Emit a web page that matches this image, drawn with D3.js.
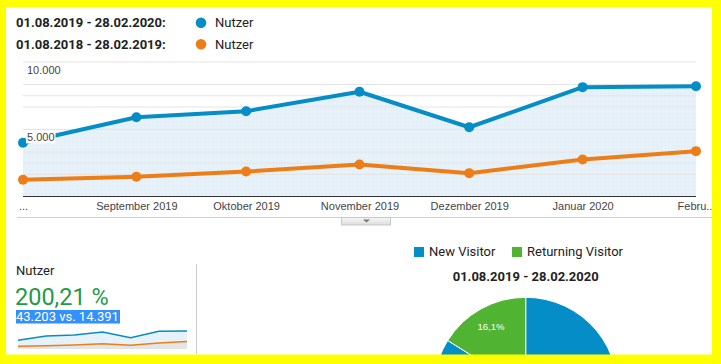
<!DOCTYPE html>
<html>
<head>
<meta charset="utf-8">
<script src="https://cdnjs.cloudflare.com/ajax/libs/d3/7.8.5/d3.min.js"></script>
<style>
    html, body { margin: 0; padding: 0; background: #fff; }
    svg { display: block; }
</style>
</head>
<body>
<div id="chart"></div>
<script>
// Daten
const months = ["2019-08-01", "2019-09-01", "2019-10-01", "2019-11-01", "2019-12-01", "2020-01-01", "2020-02-01"];
const tickLabels = ["...", "September 2019", "Oktober 2019", "November 2019", "Dezember 2019", "Januar 2020", "Febru..."];
const nutzerAktuell = [3980, 5870, 6320, 7760, 5130, 8100, 8170];
const nutzerVorjahr = [1240, 1460, 1850, 2370, 1730, 2740, 3360];
const gridValues = [1667, 2500, 3333, 5000, 6667, 7500, 8333, 10000];
const yLabelValues = [5000, 10000];
const rangeAktuell = "01.08.2019 - 28.02.2020";
const rangeVorjahr = "01.08.2018 - 28.02.2019";
const summeAktuell = 43203, summeVorjahr = 14391;
const aenderung = "200,21 %";
const pieCategories = ["New Visitor", "Returning Visitor"];
const pieValues = [83.9, 16.1];

const blue = "#058dc7", orange = "#ed7e17", green = "#50b432";
const W = 721, H = 364;

const de = d3.formatLocale({ decimal: ",", thousands: ".", grouping: [3], currency: ["", " €"] });
const fmt = de.format(",d");
const parse = d3.timeParse("%Y-%m-%d");
const dates = months.map(parse);

const svg = d3.select("#chart").append("svg")
    .attr("width", W)
    .attr("height", H);

// Punktmuster für die Fläche
const defs = svg.append("defs");
const pat = defs.append("pattern")
    .attr("id", "dots")
    .attr("width", 4).attr("height", 4)
    .attr("patternUnits", "userSpaceOnUse");
pat.append("rect").attr("width", 4).attr("height", 4).attr("fill", "#e6f1f9");
pat.append("rect").attr("x", 1).attr("y", 1).attr("width", 1).attr("height", 1).attr("fill", "#d9e9f4");

const grad = defs.append("linearGradient").attr("id", "btn").attr("x1", 0).attr("y1", 0).attr("x2", 0).attr("y2", 1);
grad.append("stop").attr("offset", "0%").attr("stop-color", "#f8f8f8");
grad.append("stop").attr("offset", "100%").attr("stop-color", "#dcdcdc");

// Legende oben
const legend = svg.append("g").style("font-family", "Roboto, sans-serif").style("font-size", "13px");
[[rangeAktuell, blue, 22.7], [rangeVorjahr, orange, 44.3]].forEach(([label, color, cy]) => {
    legend.append("text")
        .attr("x", 16).attr("y", cy).attr("dy", "0.35em")
        .style("font-weight", "bold").attr("fill", "#222")
        .text(label + ":");
    legend.append("circle").attr("cx", 201).attr("cy", cy).attr("r", 5.3).attr("fill", color);
    legend.append("text")
        .attr("x", 215).attr("y", cy).attr("dy", "0.35em")
        .attr("fill", "#222")
        .text("Nutzer");
});

// Skalen
const x = d3.scaleTime()
    .domain([dates[0], dates[dates.length - 1]])
    .range([23, 696]);

const y = d3.scaleLinear()
    .domain([0, 10000])
    .range([196.5, 61.5]);

const chart = svg.append("g");

// Fläche unter der aktuellen Linie
const area = d3.area()
    .x((d, i) => x(dates[i]))
    .y0(y(0))
    .y1(d => y(d));

chart.append("path")
    .datum(nutzerAktuell)
    .attr("d", area)
    .attr("fill", "url(#dots)");

// Gitterlinien
chart.append("g")
    .call(d3.axisLeft(y).tickValues(gridValues).tickSize(-(696 - 23)).tickFormat(""))
    .attr("transform", "translate(23,0)")
    .call(g => g.select(".domain").remove())
    .call(g => g.selectAll("line").attr("stroke", "#e4e4e4"));

// X-Achse
chart.append("g")
    .attr("transform", `translate(0,${y(0)})`)
    .call(d3.axisBottom(x).tickValues(dates).tickSize(0).tickPadding(6)
        .tickFormat((d, i) => tickLabels[i]))
    .call(g => g.select(".domain").attr("stroke", "#333").attr("d", `M23,0H696`))
    .call(g => g.selectAll("text")
        .style("font-family", "Arial, 'Liberation Sans', sans-serif")
        .style("font-size", "11px")
        .attr("fill", "#444"));

// Linien
const line = d3.line()
    .x((d, i) => x(dates[i]))
    .y(d => y(d));

[[nutzerVorjahr, orange], [nutzerAktuell, blue]].forEach(([values, color]) => {
    chart.append("path")
        .datum(values)
        .attr("d", line)
        .attr("fill", "none")
        .attr("stroke", color)
        .attr("stroke-width", 4)
        .attr("stroke-linejoin", "round");
    chart.selectAll(null)
        .data(values)
        .enter()
        .append("circle")
        .attr("cx", (d, i) => x(dates[i]))
        .attr("cy", d => y(d))
        .attr("r", 5)
        .attr("fill", color);
});

// Y-Beschriftung mit weißem Hintergrund
const yLab = chart.selectAll(".ylab")
    .data(yLabelValues)
    .enter()
    .append("g")
    .attr("class", "ylab")
    .attr("transform", d => `translate(27,${y(d) + 8.5})`);
yLab.append("text")
    .attr("dy", "0.35em")
    .style("font-family", "Arial, 'Liberation Sans', sans-serif")
    .style("font-size", "11px")
    .attr("fill", "#444")
    .text(d => fmt(d))
    .each(function () {
        const b = this.getBBox();
        d3.select(this.parentNode).insert("rect", "text")
            .attr("x", b.x - 1).attr("y", b.y)
            .attr("width", b.width + 2).attr("height", b.height)
            .attr("fill", "#fff");
    });

// Trennlinie und Griff
svg.append("line")
    .attr("x1", 17).attr("x2", 712).attr("y1", 217.5).attr("y2", 217.5)
    .attr("stroke", "#d0d0d0");
svg.append("rect")
    .attr("x", 341.5).attr("y", 217.5).attr("width", 49).attr("height", 7.5)
    .attr("fill", "url(#btn)").attr("stroke", "#c8c8c8");
svg.append("path")
    .attr("d", "M363,219.5h7l-3.5,3z")
    .attr("fill", "#777");

// Kennzahl links unten
const kpi = svg.append("g").style("font-family", "Roboto, sans-serif");
kpi.append("text")
    .attr("x", 16).attr("y", 270.7).attr("dy", "0.35em")
    .style("font-size", "13px").attr("fill", "#222")
    .text("Nutzer");
kpi.append("text")
    .attr("x", 15).attr("y", 304.5)
    .style("font-size", "23.5px").attr("fill", "#1f9a45")
    .text(aenderung);
kpi.append("rect")
    .attr("x", 16).attr("y", 310).attr("width", 104).attr("height", 13.5)
    .attr("fill", "#3390ff");
kpi.append("text")
    .attr("x", 16).attr("y", 321.3)
    .style("font-size", "13px").attr("fill", "#fff")
    .text(`${fmt(summeAktuell)} vs. ${fmt(summeVorjahr)}`);

// Sparkline
const sx = d3.scaleLinear().domain([0, nutzerAktuell.length - 1]).range([18, 187]);
const sy = d3.scaleLinear().domain([0, d3.max(nutzerAktuell)]).range([349, 331]);
const sArea = d3.area().x((d, i) => sx(i)).y0(sy(0)).y1(d => sy(d));
const sLine = d3.line().x((d, i) => sx(i)).y(d => sy(d));
svg.append("path").datum(nutzerAktuell).attr("d", sArea).attr("fill", "#e6f1f9");
svg.append("path").datum(nutzerVorjahr).attr("d", sArea).attr("fill", "#e3e6e6");
svg.append("path").datum(nutzerAktuell).attr("d", sLine).attr("fill", "none").attr("stroke", blue).attr("stroke-width", 1.5);
svg.append("path").datum(nutzerVorjahr).attr("d", sLine).attr("fill", "none").attr("stroke", orange).attr("stroke-width", 1.5);

svg.append("line")
    .attr("x1", 196.5).attr("x2", 196.5).attr("y1", 264).attr("y2", 354)
    .attr("stroke", "#ccc");

// Kreisdiagramm
const pieColor = d3.scaleOrdinal().domain(pieCategories).range([blue, green]);
const pieLeg = svg.append("g").style("font-family", "Roboto, sans-serif").style("font-size", "13px");
const legX = [414, 512];
pieCategories.forEach((c, i) => {
    pieLeg.append("rect")
        .attr("x", legX[i]).attr("y", 247).attr("width", 10).attr("height", 10)
        .attr("fill", pieColor(c));
    pieLeg.append("text")
        .attr("x", legX[i] + 15).attr("y", 251.7).attr("dy", "0.35em")
        .attr("fill", "#222")
        .text(c);
});
pieLeg.append("text")
    .attr("x", 525.7).attr("y", 276).attr("dy", "0.35em")
    .attr("text-anchor", "middle")
    .style("font-weight", "bold").attr("fill", "#222")
    .text(rangeAktuell);

const r = 92;
const cx = 525.7, cy = 389.3;
const pie = d3.pie().sort(null)(pieValues);
const arc = d3.arc().innerRadius(0).outerRadius(r);
const labelArc = d3.arc().innerRadius(r * 0.78).outerRadius(r * 0.78);
const pg = svg.append("g").attr("transform", `translate(${cx},${cy})`);
pg.selectAll("path")
    .data(pie)
    .enter()
    .append("path")
    .attr("d", arc)
    .attr("fill", (d, i) => pieColor(pieCategories[i]))
    .attr("stroke", "#fff")
    .attr("stroke-width", 1);
// nur Beschriftungen, die im sichtbaren Bereich liegen
pg.selectAll("text")
    .data(pie.filter(d => cy + labelArc.centroid(d)[1] < 345))
    .enter()
    .append("text")
    .attr("transform", d => `translate(${labelArc.centroid(d)})`)
    .attr("dy", "0.35em")
    .attr("text-anchor", "middle")
    .style("font-family", "Arial, 'Liberation Sans', sans-serif")
    .style("font-size", "9.5px")
    .attr("fill", "#fff")
    .text(d => d3.format(".1f")(d.data).replace(".", ",") + "%");

// Gelber Rahmen
svg.append("path")
    .attr("d", `M0,0H${W}V${H}H0Z M6,7V354.5H712V7Z`)
    .attr("fill", "#ffff00")
    .attr("fill-rule", "evenodd");
</script>
</body>
</html>
